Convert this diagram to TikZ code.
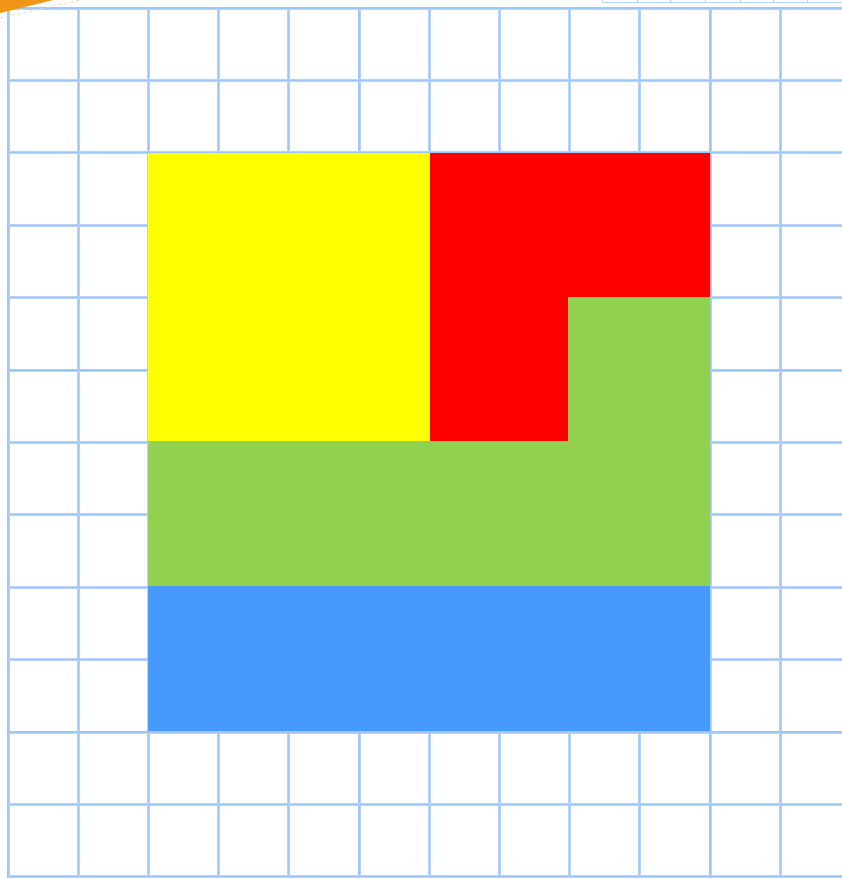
\documentclass[tikz,border=0pt]{standalone}
\usetikzlibrary{calc}
\definecolor{gridblue}{RGB}{180,210,250}
\definecolor{gridcore}{RGB}{160,198,248}
\definecolor{cyel}{RGB}{255,255,0}
\definecolor{cred}{RGB}{255,0,0}
\definecolor{cgreen}{RGB}{146,208,80}
\definecolor{cblue}{RGB}{69,153,255}
\definecolor{corange}{RGB}{240,150,20}
\definecolor{cdash}{RGB}{240,215,170}
\tikzset{
  gridline/.style={draw=gridblue, line width=3pt},
  gridcoreline/.style={draw=gridcore, line width=1.2pt},
  thinbox/.style={draw=gridblue, line width=1pt}
}
\begin{document}
\begin{tikzpicture}[x=1pt,y=-1pt]
\useasboundingbox[fill=white] (0,0) rectangle (842,878);
% grid
\foreach \xx in {8,78.2,148.4,218.6,288.8,359,429.2,499.4,569.6,639.8,710,780.2}
  {\draw[gridline] (\xx,8) -- (\xx,878);
   \draw[gridcoreline] (\xx,8) -- (\xx,878);}
\foreach \yy in {8,80.4,152.8,225.2,297.6,370,442.4,514.8,587.2,659.6,732,804.4,876.8}
  {\draw[gridline] (8,\yy) -- (842,\yy);
   \draw[gridcoreline] (8,\yy) -- (842,\yy);}
% top-right partial box
\draw[thinbox] (602,-2) -- (602,2) -- (843,2);
\foreach \xx in {637,670,705,740,773,807}
  \draw[thinbox] (\xx,-2) -- (\xx,2);
% orange corner
\fill[corange] (0,0) -- (53,0) -- (0,13) -- cycle;
\draw[cdash, dashed, line width=0.8pt] (0,18) -- (80,0);
% coloured blocks
\fill[cyel] (148,153) rectangle (430,441);
\fill[cred] (430,153) -- (710,153) -- (710,297) -- (568,297) -- (568,441) -- (430,441) -- cycle;
\fill[cgreen] (568,297) -- (710,297) -- (710,586) -- (148,586) -- (148,441) -- (568,441) -- cycle;
\fill[cblue] (148,586) rectangle (710,731);
\end{tikzpicture}
\end{document}
